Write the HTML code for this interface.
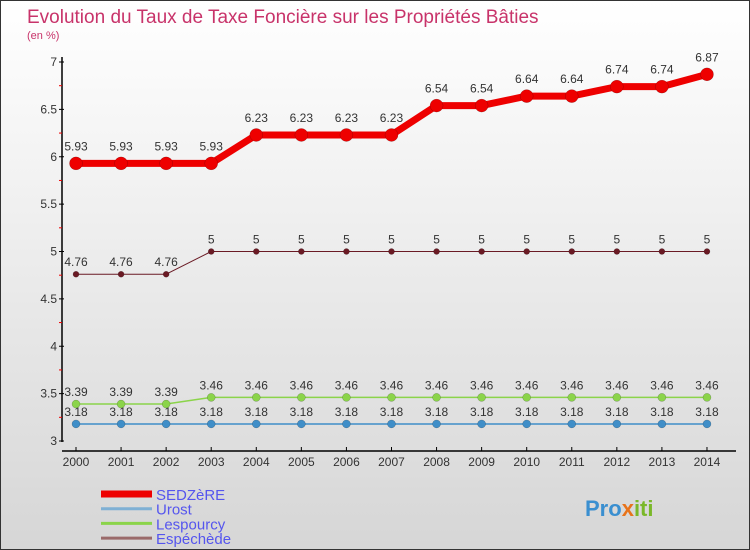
<!DOCTYPE html>
<html><head><meta charset="utf-8"><style>
body{margin:0}
#c{width:750px;height:550px;position:relative;box-sizing:border-box;border:1px solid #333;background:linear-gradient(#ffffff,#f3f3f3 30%,#d6d6d6);overflow:hidden;font-family:"Liberation Sans",sans-serif}
svg text{font-family:"Liberation Sans",sans-serif}
</style></head><body>
<div id="c">
<svg width="750" height="550" id="s">
<text x="26" y="22" font-size="19" fill="#c8336a">Evolution du Taux de Taxe Foncière sur les Propriétés Bâties</text>
<text x="26" y="38" font-size="11" fill="#c8336a">(en %)</text>
<text x="584" y="515" font-size="22" font-weight="bold" fill="#3a8fd0">Pro<tspan fill="#e8731a">x</tspan><tspan fill="#7ab829">iti</tspan></text>
</svg>
</div>
<script>
const years=[2000,2001,2002,2003,2004,2005,2006,2007,2008,2009,2010,2011,2012,2013,2014];
const sedzere=[5.93,5.93,5.93,5.93,6.23,6.23,6.23,6.23,6.54,6.54,6.64,6.64,6.74,6.74,6.87];
const urost=[3.18,3.18,3.18,3.18,3.18,3.18,3.18,3.18,3.18,3.18,3.18,3.18,3.18,3.18,3.18];
const lespourcy=[3.39,3.39,3.39,3.46,3.46,3.46,3.46,3.46,3.46,3.46,3.46,3.46,3.46,3.46,3.46];
const espechede=[4.76,4.76,4.76,5,5,5,5,5,5,5,5,5,5,5,5];
const yTicks=[3,3.5,4,4.5,5,5.5,6,6.5,7];
const NS='http://www.w3.org/2000/svg';
const s=document.getElementById('s');
const X=i=>75+i*45.07;
const Y=v=>440-(v-3)*94.75;
function el(t,a,p){const e=document.createElementNS(NS,t);for(const k in a)e.setAttribute(k,a[k]);(p||s).appendChild(e);return e;}
let ax=el('line',{x1:61,y1:56,x2:61,y2:441,stroke:'#000','stroke-width':1.5});


let xa=el('line',{x1:61,y1:450,x2:735,y2:450,stroke:'#000','stroke-width':1.5});


const yMax=yTicks[yTicks.length-1];
yTicks.forEach(v=>{
 el('line',{x1:58,y1:Y(v),x2:63,y2:Y(v),stroke:'#000'});
 if(v<yMax) el('line',{x1:58,y1:Y(v+0.25),x2:61,y2:Y(v+0.25),stroke:'#e00'});
 const t=el('text',{x:56,y:Y(v)+4,'text-anchor':'end','font-size':12,fill:'#333'});
 t.textContent=v;
 
 
});
years.forEach((y,i)=>{
 el('line',{x1:X(i),y1:446,x2:X(i),y2:450,stroke:'#000'});
 const t=el('text',{x:X(i),y:465,'text-anchor':'middle','font-size':12,fill:'#333'});
 t.textContent=y;
 
 
});
function series(name,data,color,w,r,labelDy){
 const g=el('g',{});
 
 
 el('polyline',{points:data.map((v,i)=>X(i)+','+Y(v)).join(' '),fill:'none',stroke:color,'stroke-width':w,'stroke-linejoin':'round'},g);
 data.forEach((v,i)=>{
  const c=el('circle',{cx:X(i),cy:Y(v),r:r,fill:color,stroke:'rgba(0,0,0,0.3)','stroke-width':0.5},g);
  
  
  const t=el('text',{x:X(i),y:Y(v)+labelDy,'text-anchor':'middle','font-size':12,fill:'#333'},g);
  t.textContent=v;
 });
}
series('urost',urost,'#3f8ec8',1.5,4,-8);
series('lespourcy',lespourcy,'#8bd44a',1.5,4,-8);
series('espechede',espechede,'#6a1a24',1,3,-8);
series('sedzere',sedzere,'#ee0000',7,6.5,-13);
const leg=[['SEDZèRE','#ee0000',7],['Urost','#7fb0d4',3],['Lespourcy','#8bd44a',3],['Espéchède','#9a6a6a',3]];
leg.forEach((l,i)=>{
 const y=493+i*14.7;
 const g=el('g',{});
 
 
 el('line',{x1:100,y1:y,x2:151,y2:y,stroke:l[1],'stroke-width':l[2]},g);
 const t=el('text',{x:155,y:y+6,'font-size':15,fill:'#5555ee'},g);
 t.textContent=l[0];
});
</script>
</body></html>
